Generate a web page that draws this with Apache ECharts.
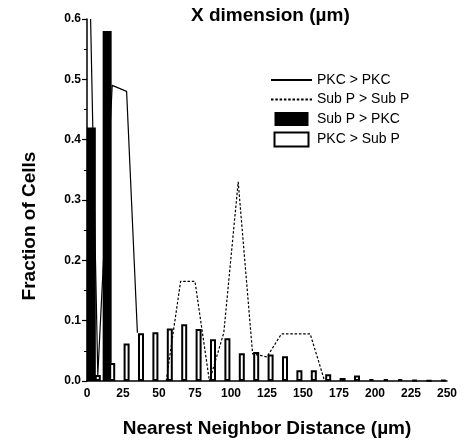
<!DOCTYPE html>
<html>
<head>
<meta charset="utf-8">
<script src="https://cdn.jsdelivr.net/npm/echarts@6/dist/echarts.min.js"></script>
<style>
  html, body { margin: 0; padding: 0; background: #fff; }
  #chart { width: 467px; height: 443px; }
</style>
</head>
<body>
<div id="chart"></div>
<script>
// Nearest-neighbour distance distributions (fraction of cells per bin, distance in µm)
const xTicks = [0, 25, 50, 75, 100, 125, 150, 175, 200, 225, 250];
const yTicks = [0.0, 0.1, 0.2, 0.3, 0.4, 0.5, 0.6];

// Sub P > PKC (filled bars)
const subpPkcX = [3, 14];
const subpPkcY = [0.42, 0.58];

// PKC > Sub P (open bars)
const pkcSubpX = [7.5, 17.5, 27.5, 37.5, 47.5, 57.5, 67.5, 77.5, 87.5, 97.5,
                  107.5, 117.5, 127.5, 137.5, 147.5, 157.5, 167.5, 177.5, 187.5, 197.5,
                  207.5, 217.5, 227.5, 237.5, 247.5];
const pkcSubpY = [0.010, 0.030, 0.062, 0.079, 0.081, 0.087, 0.094, 0.086, 0.069, 0.071,
                  0.046, 0.048, 0.044, 0.041, 0.018, 0.018, 0.011, 0.005, 0.009, 0.003,
                  0.003, 0.003, 0.002, 0.001, 0.002];

// PKC > PKC (solid line)
const pkcPkcX = [2.5, 7.5, 17.5, 27.5, 35];
const pkcPkcY = [0.60, 0.01, 0.49, 0.48, 0.08];

// Sub P > Sub P (dotted line)
const subpSubpX = [55, 65, 75, 85, 95, 105, 115, 125, 135, 145, 155, 165];
const subpSubpY = [0.0, 0.165, 0.165, 0.0, 0.08, 0.33, 0.045, 0.04, 0.078, 0.078, 0.078, 0.0];

const legendNames = ['PKC > PKC', 'Sub P > Sub P', 'Sub P > PKC', 'PKC > Sub P'];

const zip = (xs, ys) => xs.map((x, i) => [x, ys[i]]);

const FONT = '"Liberation Sans", Arial, sans-serif';
const BOX_ICON = 'path://M0,0H34V14H0Z';

const chart = echarts.init(document.getElementById('chart'), null, { renderer: 'canvas' });

const xAxisBase = {
  type: 'value',
  min: xTicks[0],
  max: xTicks[xTicks.length - 1],
  interval: 25,
  splitLine: { show: false },
  axisTick: { show: false }
};

chart.setOption({
  animation: false,
  backgroundColor: '#fff',
  title: {
    text: 'X dimension (µm)',
    left: 186,
    top: 1,
    textStyle: { fontFamily: FONT, fontSize: 19, fontWeight: 'bold', color: '#000' }
  },
  grid: { left: 87, right: 20, top: 19, bottom: 57 },
  legend: {
    orient: 'vertical',
    left: 270,
    top: 73,
    padding: 0,
    itemWidth: 41,
    itemHeight: 14,
    itemGap: 5.5,
    textStyle: { fontFamily: FONT, fontSize: 14, color: '#000' },
    data: [
      { name: legendNames[0], itemStyle: { opacity: 0 } },
      { name: legendNames[1], itemStyle: { opacity: 0 } },
      { name: legendNames[2], icon: BOX_ICON },
      { name: legendNames[3], icon: BOX_ICON }
    ]
  },
  xAxis: [
    Object.assign({}, xAxisBase, {
      name: 'Nearest Neighbor Distance (µm)',
      nameLocation: 'middle',
      nameGap: 38,
      nameTextStyle: { fontFamily: FONT, fontSize: 19, fontWeight: 'bold', color: '#000' },
      axisLine: { show: true, lineStyle: { color: '#000', width: 1.5 } },
      axisLabel: { fontFamily: FONT, fontSize: 12, fontWeight: 'bold', color: '#000', margin: 7 }
    }),
    Object.assign({}, xAxisBase, {
      show: false
    })
  ],
  yAxis: {
    type: 'value',
    min: yTicks[0],
    max: yTicks[yTicks.length - 1],
    interval: 0.1,
    splitLine: { show: false },
    axisLine: { show: true, lineStyle: { color: '#000', width: 1.5 } },
    axisTick: { show: true, inside: false, length: 5, lineStyle: { color: '#000', width: 1.2 } },
    minorTick: { show: true, splitNumber: 2, length: 3, lineStyle: { color: '#000', width: 1 } },
    axisLabel: {
      fontFamily: FONT, fontSize: 12, fontWeight: 'bold', color: '#000', margin: 6,
      formatter: v => v.toFixed(1)
    }
  },
  graphic: [
    {
      type: 'text',
      x: 30,
      y: 226,
      rotation: Math.PI / 2,
      style: {
        text: 'Fraction of Cells',
        font: 'bold 19px ' + FONT,
        fill: '#000',
        textAlign: 'center',
        textVerticalAlign: 'middle'
      }
    }
  ],
  series: [
    {
      name: legendNames[2],
      type: 'bar',
      xAxisIndex: 0,
      barWidth: 9,
      data: zip(subpPkcX, subpPkcY),
      itemStyle: { color: '#000', borderColor: '#000', borderWidth: 0 },
      z: 2
    },
    {
      name: legendNames[3],
      type: 'bar',
      xAxisIndex: 1,
      barWidth: 6,
      data: zip(pkcSubpX, pkcSubpY),
      itemStyle: { color: '#fff', borderColor: '#000', borderWidth: 2 },
      z: 2
    },
    {
      name: legendNames[0],
      type: 'line',
      xAxisIndex: 0,
      data: zip(pkcPkcX, pkcPkcY),
      symbol: 'none',
      lineStyle: { color: '#000', width: 1.2, type: 'solid' },
      itemStyle: { color: '#000' },
      z: 3
    },
    {
      name: legendNames[1],
      type: 'line',
      xAxisIndex: 0,
      data: zip(subpSubpX, subpSubpY),
      symbol: 'none',
      lineStyle: { color: '#000', width: 1.2, type: [2.5, 1.8] },
      itemStyle: { color: '#000' },
      z: 3
    }
  ]
});
</script>
</body>
</html>
